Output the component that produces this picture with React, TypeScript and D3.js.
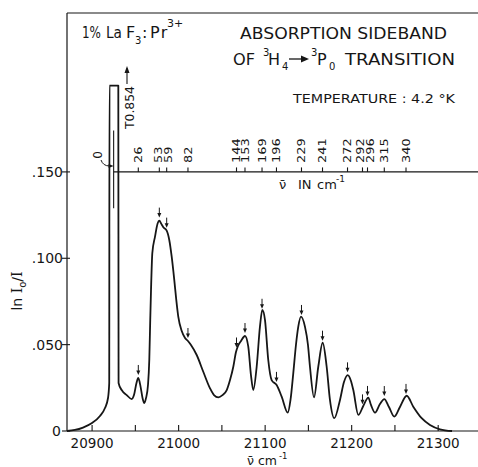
import React from 'react';
import * as d3 from 'd3';

// ---- data ----
// spectrum trace: wavenumber (cm^-1) and ln(I0/I); the off-scale zero-phonon line is drawn clipped at 0.200
const wavenumbers = [
  20871, 20880.2, 20889.5, 20899.9, 20909.1, 20914.9, 20918.4, 20919.8,
  20920.1, 20930.3,
  20930.6, 20934.2, 20940, 20945.8, 20948.4, 20951.3, 20953.4, 20955.9, 20958.3, 20960.3,
  20962.3, 20964.6, 20966.1, 20967.2, 20968.1, 20969.6, 20972.7, 20975.8, 20977.7, 20980,
  20982.3, 20986.2, 20989.2, 20992, 20995, 20997.3, 20999.6, 21003.6, 21007.4, 21010.8,
  21014.3, 21020.9, 21028.5, 21036.3, 21040.9, 21045.9, 21050.7, 21055.6, 21059.4, 21063.2,
  21066.3, 21068.6, 21072.1, 21076.7, 21080.5, 21083.6, 21086.3, 21090.2, 21094, 21096.7,
  21099.8, 21103.6, 21107.5, 21113.3, 21119.1, 21126.1, 21129.3, 21132.5, 21135.6, 21138.3,
  21141.4, 21146, 21149.5, 21151.8, 21156.5, 21161.4, 21166.5, 21171.1, 21174.9, 21179.9,
  21186.5, 21191.1, 21195.4, 21199.2, 21201.9, 21207.7, 21213.4, 21219.2, 21222.3, 21227,
  21232.7, 21237.7, 21243.1, 21249.3, 21255.8, 21263.6, 21271.2, 21280.9, 21290.5, 21302.1,
  21316,
];
const absorbance = [
  0, 0.0006, 0.002, 0.0046, 0.0087, 0.0133, 0.0191, 0.0278,
  0.2, 0.2,
  0.0278, 0.0237, 0.0208, 0.0185, 0.0208, 0.0278, 0.0307, 0.026, 0.0191, 0.0162,
  0.019, 0.0266, 0.0411, 0.0643, 0.0816, 0.103, 0.1125, 0.1203, 0.1218, 0.1199,
  0.118, 0.116, 0.1106, 0.1009, 0.0874, 0.0759, 0.0662, 0.0579, 0.0539, 0.0521,
  0.0498, 0.044, 0.0343, 0.0247, 0.0208, 0.0195, 0.0208, 0.0237, 0.0295, 0.0372,
  0.0457, 0.0492, 0.0521, 0.055, 0.0488, 0.0324, 0.0237, 0.0372, 0.0604, 0.0701,
  0.0643, 0.0411, 0.0295, 0.0266, 0.0199, 0.0106, 0.018, 0.0334, 0.0498, 0.0604,
  0.0662, 0.0604, 0.0498, 0.0372, 0.0195, 0.0372, 0.0511, 0.0372, 0.018, 0.0074,
  0.018, 0.0284, 0.0324, 0.029, 0.0237, 0.0093, 0.0145, 0.0193, 0.0151, 0.0106,
  0.0156, 0.0185, 0.0139, 0.0083, 0.0139, 0.0204, 0.0141, 0.0074, 0.0035, 0.001,
  0,
];

// phonon shifts (cm^-1 from zero line) and where they are marked on the spectrum
const phononShifts = ['0', '26', '53', '59', '82', '144', '153', '169', '196', '229', '241', '272', '292', '296', '315', '340'];
const phononPositions = [20924.9, 20953.4, 20977.7, 20986.2, 21010.8, 21066.9, 21076.7, 21096.4, 21113.1, 21142, 21166.3, 21195.2, 21212.5, 21218.3, 21237.7, 21262.8];

const xTickValues = [20900, 20950, 21000, 21050, 21100, 21150, 21200, 21250, 21300];
const xTickLabels = ['20900', '', '21000', '', '21100', '', '21200', '', '21300'];
const yTickValues = [0, 0.05, 0.1, 0.15];
const yTickLabels = ['0', '.050', '.100', '.150'];
const insetAxisLevel = 0.15;
const offScalePeak = 'T0.854';

const W = 478;
const H = 467;
const INK = '#161616';
const FONT = '"DejaVu Sans", sans-serif';

export default function App() {
  const x = d3.scaleLinear().domain([20871, 21346]).range([67, 478]);
  const y = d3.scaleLinear().domain([0, 0.242]).range([431, 13]);

  const pts: [number, number][] = wavenumbers.map((v, i) => [v, absorbance[i]]);
  const line = d3
    .line<[number, number]>()
    .x((d) => x(d[0]))
    .y((d) => y(d[1]))
    .curve(d3.curveMonotoneX);

  const curvePts = pts.filter((p) => p[1] < 0.19);
  const valueAt = (v: number) => {
    const i = d3.bisector((p: [number, number]) => p[0]).left(curvePts, v);
    if (i <= 0) return curvePts[0][1];
    if (i >= curvePts.length) return curvePts[curvePts.length - 1][1];
    const a = curvePts[i - 1];
    const b = curvePts[i];
    const t = (v - a[0]) / (b[0] - a[0]);
    return a[1] + t * (b[1] - a[1]);
  };

  const insetY = y(insetAxisLevel);
  const zeroX = x(phononPositions[0]);

  // dodge crowded inset labels
  const labelX = phononPositions.map((p) => x(p));
  for (let it = 0; it < 80; it++) {
    for (let i = 2; i < labelX.length; i++) {
      const gap = labelX[i] - labelX[i - 1];
      const minGap = 9.5;
      if (gap < minGap) {
        const d = (minGap - gap) / 2;
        labelX[i - 1] -= d;
        labelX[i] += d;
      }
    }
  }

  const arrowDown = (cx: number, tip: number, key: string) => (
    <g key={key}>
      <line x1={cx} x2={cx} y1={tip - 10} y2={tip - 3} stroke={INK} strokeWidth={1} />
      <path d={`M${cx - 2},${tip - 4.5} L${cx + 2},${tip - 4.5} L${cx},${tip} Z`} fill={INK} />
    </g>
  );

  return (
    <svg width={W} height={H} viewBox={`0 0 ${W} ${H}`} style={{ display: 'block', position: 'absolute', left: 0, top: 0, background: '#fff' }}>
      <rect x={0} y={0} width={W} height={H} fill="#fff" />
      {/* frame */}
      <g stroke={INK} strokeWidth={1.2} fill="none">
        <line x1={x.range()[0]} x2={x.range()[1]} y1={y.range()[1]} y2={y.range()[1]} />
        <line x1={x.range()[0]} x2={x.range()[0]} y1={y.range()[1]} y2={y.range()[0]} />
        <line x1={x.range()[0]} x2={x.range()[1]} y1={y.range()[0]} y2={y.range()[0]} />
      </g>

      {/* x ticks */}
      {xTickValues.map((v, i) => (
        <g key={'xt' + v}>
          <line x1={x(v)} x2={x(v)} y1={y(0)} y2={y(0) - 6} stroke={INK} strokeWidth={1.1} />
          {xTickLabels[i] && (
            <text x={x(v)} y={448} textAnchor="middle" fontSize={13.5} fontFamily={FONT} fill={INK}>
              {xTickLabels[i]}
            </text>
          )}
        </g>
      ))}
      {/* y ticks */}
      {yTickValues.map((v, i) => (
        <g key={'yt' + v}>
          <line x1={x.range()[0] - 5} x2={x.range()[0] + 3} y1={y(v)} y2={y(v)} stroke={INK} strokeWidth={1.1} />
          <text x={v === 0 ? 61 : 63} y={y(v)} dy="0.36em" textAnchor="end" fontSize={14} fontFamily={FONT} fill={INK}>
            {yTickLabels[i]}
          </text>
        </g>
      ))}

      {/* axis titles */}
      <text transform={`translate(22,291) rotate(-90)`} textAnchor="middle" fontSize={14} fontFamily={FONT} fill={INK}>
        <tspan>ln </tspan>
        <tspan fontFamily='"DejaVu Serif", serif'>I</tspan>
        <tspan fontSize={10} dy={4}>o</tspan>
        <tspan dy={-4}>/</tspan>
        <tspan fontFamily='"DejaVu Serif", serif'>I</tspan>
      </text>
      <text y={465} fontSize={12.5} fontFamily={FONT} fill={INK}>
        <tspan x={247}>ν̄</tspan>
        <tspan x={258}>cm</tspan>
        <tspan x={279} dy={-6} fontSize={8.5}>-1</tspan>
      </text>

      {/* inset phonon-shift axis */}
      <line x1={zeroX} x2={x.range()[1]} y1={insetY} y2={insetY} stroke={INK} strokeWidth={1.2} />
      {phononPositions.map((p, i) =>
        i === 0 ? null : (
          <line key={'it' + i} x1={x(p)} x2={x(p)} y1={insetY} y2={insetY - 4.5} stroke={INK} strokeWidth={1.1} />
        )
      )}
      {phononShifts.map((s, i) =>
        i === 0 ? null : (
          <text
            key={'il' + i}
            transform={`translate(${labelX[i]},163) rotate(-90)`}
            dy="0.36em"
            fontSize={11}
            fontFamily={FONT}
            fill={INK}
            textLength={s.length * 8.2}
            lengthAdjust="spacingAndGlyphs"
          >
            {s}
          </text>
        )
      )}
      <text y={189} fontSize={13} fontFamily={FONT} fill={INK}>
        <tspan x={279}>ν̄</tspan>
        <tspan x={298}>IN</tspan>
        <tspan x={317}>cm</tspan>
        <tspan x={336} dy={-7} fontSize={9}>-1</tspan>
      </text>

      {/* zero line marker */}
      <line x1={zeroX} x2={zeroX} y1={y(0.174)} y2={y(0.129)} stroke={INK} strokeWidth={1.1} />
      <text transform={`translate(98,155) rotate(-90)`} dy="0.36em" textAnchor="middle" fontSize={12} fontFamily={FONT} fill={INK}>
        {phononShifts[0]}
      </text>
      <path d={`M101,160 Q103,166 ${zeroX - 4},166`} fill="none" stroke={INK} strokeWidth={1} />
      <path d={`M${zeroX - 5},164 L${zeroX},166 L${zeroX - 5},168 Z`} fill={INK} />

      {/* off-scale peak annotation */}
      <text
        transform={`translate(129,129) rotate(-90)`}
        dy="0.36em"
        fontSize={13}
        fontFamily={FONT}
        fill={INK}
        textLength={43}
        lengthAdjust="spacingAndGlyphs"
      >
        {offScalePeak}
      </text>
      <line x1={127} x2={127} y1={84} y2={68} stroke={INK} strokeWidth={1.1} />
      <path d="M124.5,73 L129.5,73 L127,66 Z" fill={INK} />

      {/* spectrum */}
      <path d={line(pts) || ''} fill="none" stroke={INK} strokeWidth={1.8} strokeLinejoin="round" />

      {/* peak arrows */}
      {phononPositions.map((p, i) => (i === 0 ? null : arrowDown(x(p), y(valueAt(p)) - 3, 'ar' + i)))}

      {/* titles */}
      <g fontFamily={FONT} fill={INK}>
        <text y={38} fontSize={16}>
          <tspan x={82} textLength={19} lengthAdjust="spacingAndGlyphs">1%</tspan>
          <tspan x={106} textLength={16} lengthAdjust="spacingAndGlyphs">La</tspan>
          <tspan x={126}>F</tspan>
          <tspan x={135} dy={6} fontSize={10}>3</tspan>
          <tspan x={142} dy={-6}>:</tspan>
          <tspan x={150} letterSpacing={1.5}>Pr</tspan>
          <tspan x={167} dy={-11} fontSize={11}>3+</tspan>
        </text>
        <text x={240} y={39} fontSize={16} textLength={207} lengthAdjust="spacingAndGlyphs">
          ABSORPTION SIDEBAND
        </text>
        <text y={65} fontSize={16}>
          <tspan x={233} textLength={22} lengthAdjust="spacingAndGlyphs">OF</tspan>
          <tspan x={263} dy={-9} fontSize={10}>3</tspan>
          <tspan x={268} dy={9}>H</tspan>
          <tspan x={282} dy={5} fontSize={10}>4</tspan>
          <tspan x={311} dy={-14} fontSize={10}>3</tspan>
          <tspan x={317} dy={9}>P</tspan>
          <tspan x={329} dy={5} fontSize={10}>0</tspan>
          <tspan x={345} dy={-5} textLength={110} lengthAdjust="spacingAndGlyphs">TRANSITION</tspan>
        </text>
        <line x1={289} x2={302} y1={59} y2={59} stroke={INK} strokeWidth={1.3} />
        <path d="M301,55.5 L309,59 L301,62.5 Z" fill={INK} />
        <text x={293} y={103} fontSize={13} textLength={162} lengthAdjust="spacingAndGlyphs">
          TEMPERATURE : 4.2 °K
        </text>
      </g>
    </svg>
  );
}
